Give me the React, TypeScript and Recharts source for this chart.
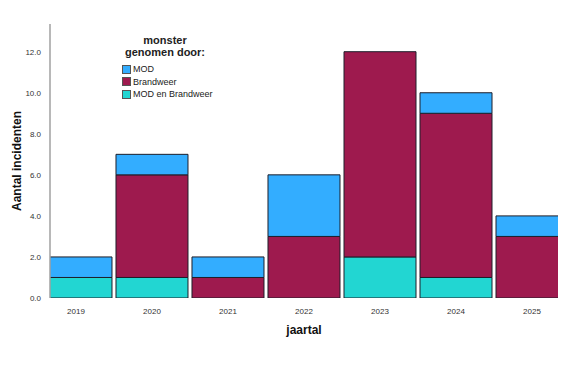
import { BarChart, Bar, XAxis, YAxis } from 'recharts';

const years = [2019, 2020, 2021, 2022, 2023, 2024, 2025];
const modEnBrandweer = [1, 1, 0, 0, 2, 1, 0];
const brandweer = [0, 5, 1, 3, 10, 8, 3];
const mod = [1, 1, 1, 3, 0, 1, 1];
const yTicks = [0, 2, 4, 6, 8, 10, 12];

const series = [
  { key: 'modEnBrandweer', name: 'MOD en Brandweer', color: '#22D6D2' },
  { key: 'brandweer', name: 'Brandweer', color: '#9E1A4E' },
  { key: 'mod', name: 'MOD', color: '#33ADFF' },
];

const data = years.map((year, i) => ({
  year,
  modEnBrandweer: modEnBrandweer[i],
  brandweer: brandweer[i],
  mod: mod[i],
}));

const FONT = '"Liberation Sans", Arial, sans-serif';

// legend lists top series first, like the original
function LegendBox() {
  const items = [...series].reverse();
  return (
    <div style={{ position: 'absolute', left: 118, top: 34, width: 110, fontFamily: FONT, color: '#222' }}>
      <div style={{ fontWeight: 700, fontSize: 11, textAlign: 'center', lineHeight: '12px', marginLeft: -16 }}>
        <div>monster</div>
        <div>genomen door:</div>
      </div>
      <div style={{ marginTop: 5, marginLeft: 4 }}>
        {items.map((s) => (
          <div key={s.key} style={{ display: 'flex', alignItems: 'center', height: 12.5, fontSize: 9 }}>
            <span
              style={{
                display: 'inline-block',
                width: 7,
                height: 7,
                background: s.color,
                border: '1px solid #555',
                marginRight: 2,
              }}
            />
            {s.name}
          </div>
        ))}
      </div>
    </div>
  );
}

export default function App() {
  return (
    <div style={{ position: 'absolute', left: 0, top: 0, width: 566, height: 365, background: '#fff' }}>
      <BarChart
        width={566}
        height={365}
        data={data}
        margin={{ top: 24, right: 8, left: 20, bottom: 37 }}
        barGap={0}
      >
        <XAxis
          dataKey="year"
          type="number"
          domain={[2018.658, 2025.342]}
          allowDataOverflow
          ticks={years}
          axisLine={false}
          tickLine={false}
          tickMargin={4}
          height={30}
          tick={{ fontSize: 8, fill: '#333', fontFamily: FONT }}
          label={{
            value: 'jaartal',
            position: 'insideBottom',
            offset: -6,
            style: { fontSize: 12, fontWeight: 700, fill: '#111', fontFamily: FONT },
          }}
        />
        <YAxis
          type="number"
          domain={[0, 13.35]}
          ticks={yTicks}
          allowDataOverflow
          width={30}
          tickLine={false}
          tickMargin={3}
          axisLine={{ stroke: '#a0a0a0', strokeWidth: 1.5 }}
          tickFormatter={(v: number) => v.toFixed(1)}
          tick={{ fontSize: 8, fill: '#333', fontFamily: FONT }}
          label={{
            value: 'Aantal incidenten',
            angle: -90,
            position: 'insideLeft',
            offset: -3,
            style: { fontSize: 12, fontWeight: 700, fill: '#111', fontFamily: FONT, textAnchor: 'middle' },
          }}
        />
        {series.map((s) => (
          <Bar
            key={s.key}
            dataKey={s.key}
            name={s.name}
            stackId="a"
            fill={s.color}
            stroke="#1e1e2a"
            strokeWidth={1}
            barSize={72}
            isAnimationActive={false}
          />
        ))}
      </BarChart>
      <LegendBox />
    </div>
  );
}
